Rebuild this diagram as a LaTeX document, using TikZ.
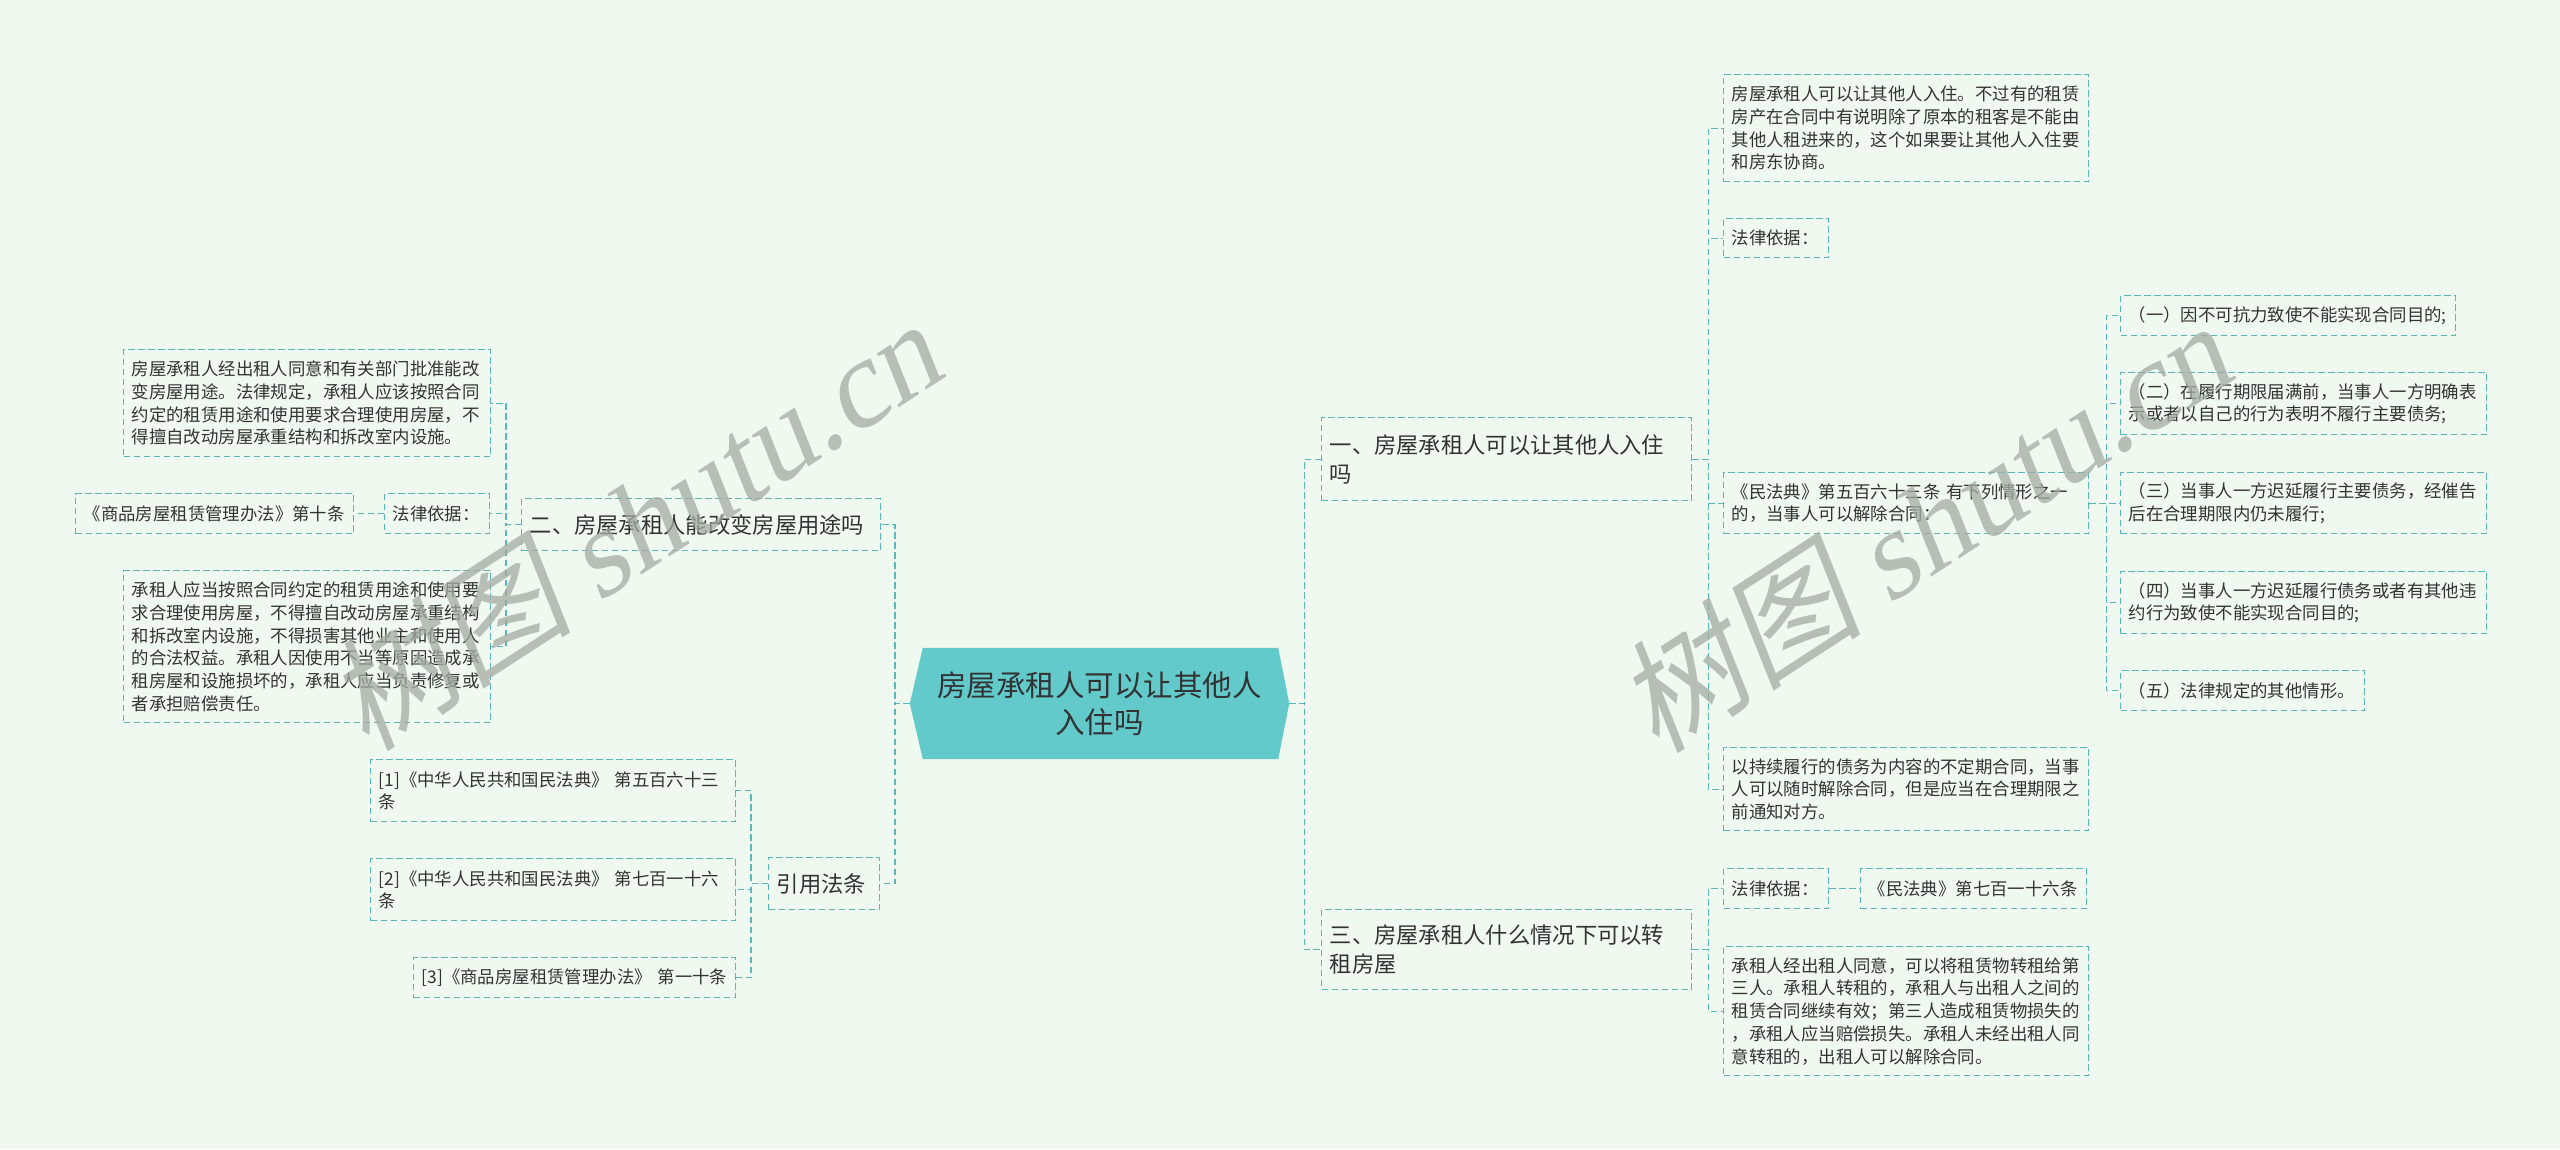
\documentclass[tikz,border=0pt]{standalone}
\usepackage{fontspec}
\setmainfont{Noto Sans CJK SC}
\newfontfamily\wmserif{Liberation Serif}
\usetikzlibrary{backgrounds}
\definecolor{bgc}{HTML}{F0F9EF}
\definecolor{lnc}{HTML}{5AB6B8}
\definecolor{cfill}{HTML}{63CACB}
\definecolor{txc}{HTML}{333333}
\definecolor{wmc}{HTML}{A3ABA3}
\tikzset{
 boxbase/.style={draw=lnc, line width=1.4pt, dash pattern=on 6.5pt off 3.5pt, inner xsep=8pt, inner ysep=0pt, align=left, text=txc},
 leaf/.style={boxbase, font=\fontsize{17.4}{22.7}\selectfont},
 mid/.style={boxbase, font=\fontsize{22.3}{28.7}\selectfont},
 conn/.style={draw=lnc, line width=1.4pt, dash pattern=on 6.5pt off 3.5pt},
 central/.style={inner sep=0pt, align=center, text=txc, font=\fontsize{29.5}{37}\selectfont, minimum width=379pt, minimum height=111pt, text width=359pt},
 wm/.style={text=wmc, text opacity=0.75, font=\fontsize{124}{124}\selectfont, inner sep=0pt}
}
\newcommand{\mnode}[7]{%
 \pgfmathsetmacro{\mnw}{#4-#2}%
 \pgfmathsetmacro{\mnh}{#5-#3}%
 \pgfmathsetmacro{\mnt}{#4-#2-16}%
 \node[#6, anchor=north west, minimum width=\mnw pt, minimum height=\mnh pt, text width=\mnt pt] (#1) at (#2,#3) {#7};}
\begin{document}
\begin{tikzpicture}[x=1pt,y=-1pt]
\useasboundingbox (0,0) rectangle (2560,1149);
% central
\node[central] (c) at (1099.5,703.5) {房屋承租人可以让其他人\\入住吗};
\begin{pgfonlayer}{background}
\fill[bgc] (0,0) rectangle (2560,1149);
\fill[cfill] (c.west) -- ([xshift=13pt]c.north west) -- ([xshift=-11pt]c.north east) -- (c.east) -- ([xshift=-11pt]c.south east) -- ([xshift=13pt]c.south west) -- cycle;
\end{pgfonlayer}
% left branch 二
\mnode{n2}{521}{498}{880}{550}{mid}{二、房屋承租人能改变房屋用途吗}
\mnode{nA}{123}{349}{490}{456}{leaf}{房屋承租人经出租人同意和有关部门批准能改\\变房屋用途。法律规定，承租人应该按照合同\\约定的租赁用途和使用要求合理使用房屋，不\\得擅自改动房屋承重结构和拆改室内设施。}
\mnode{nL1}{384}{493}{489}{533}{leaf}{法律依据：}
\mnode{nB}{75}{493}{353}{533}{leaf}{《商品房屋租赁管理办法》第十条}
\mnode{nC}{123}{570}{490}{722}{leaf}{承租人应当按照合同约定的租赁用途和使用要\\求合理使用房屋，不得擅自改动房屋承重结构\\和拆改室内设施，不得损害其他业主和使用人\\的合法权益。承租人因使用不当等原因造成承\\租房屋和设施损坏的，承租人应当负责修复或\\者承担赔偿责任。}
% 引用法条
\mnode{nR}{768}{857}{879}{909}{mid}{引用法条}
\mnode{r1}{370}{759}{735}{821}{leaf}{[1]《中华人民共和国民法典》 第五百六十三\\条}
\mnode{r2}{370}{858}{735}{920}{leaf}{[2]《中华人民共和国民法典》 第七百一十六\\条}
\mnode{r3}{413}{957}{735}{997}{leaf}{[3]《商品房屋租赁管理办法》 第一十条}
% right branch 一
\mnode{n1}{1321}{417}{1691}{500}{mid}{一、房屋承租人可以让其他人入住\\吗}
\mnode{a1}{1723}{74}{2088}{181}{leaf}{房屋承租人可以让其他人入住。不过有的租赁\\房产在合同中有说明除了原本的租客是不能由\\其他人租进来的，这个如果要让其他人入住要\\和房东协商。}
\mnode{a2}{1723}{218}{1828}{257}{leaf}{法律依据：}
\mnode{a3}{1723}{472}{2088}{533}{leaf}{《民法典》第五百六十三条 有下列情形之一\\的，当事人可以解除合同：}
\mnode{a4}{1723}{747}{2088}{830}{leaf}{以持续履行的债务为内容的不定期合同，当事\\人可以随时解除合同，但是应当在合理期限之\\前通知对方。}
\mnode{b1}{2120}{295}{2455}{335}{leaf}{（一）因不可抗力致使不能实现合同目的;}
\mnode{b2}{2120}{372}{2486}{434}{leaf}{（二）在履行期限届满前，当事人一方明确表\\示或者以自己的行为表明不履行主要债务;}
\mnode{b3}{2120}{472}{2486}{533}{leaf}{（三）当事人一方迟延履行主要债务，经催告\\后在合理期限内仍未履行;}
\mnode{b4}{2120}{571}{2486}{633}{leaf}{（四）当事人一方迟延履行债务或者有其他违\\约行为致使不能实现合同目的;}
\mnode{b5}{2120}{670}{2364}{710}{leaf}{（五）法律规定的其他情形。}
% right branch 三
\mnode{n3}{1321}{909}{1691}{989}{mid}{三、房屋承租人什么情况下可以转\\租房屋}
\mnode{d1}{1723}{868}{1828}{908}{leaf}{法律依据：}
\mnode{d2}{1860}{868}{2086}{908}{leaf}{《民法典》第七百一十六条}
\mnode{d3}{1723}{946}{2088}{1075}{leaf}{承租人经出租人同意，可以将租赁物转租给第\\三人。承租人转租的，承租人与出租人之间的\\租赁合同继续有效；第三人造成租赁物损失的\\，承租人应当赔偿损失。承租人未经出租人同\\意转租的，出租人可以解除合同。}
% connectors
\draw[conn] (c.west) -- ++(-15,0) |- (n2.east);
\draw[conn] (c.west) -- ++(-15,0) |- (nR.east);
\draw[conn] (c.east) -- ++(15,0) |- (n1.west);
\draw[conn] (c.east) -- ++(15,0) |- (n3.west);
\draw[conn] (n2.west) -- ++(-15,0) |- (nA.east);
\draw[conn] (n2.west) -- ++(-15,0) |- (nL1.east);
\draw[conn] (n2.west) -- ++(-15,0) |- (nC.east);
\draw[conn] (nL1.west) -- (nB.east);
\draw[conn] (nR.west) -- ++(-17,0) |- (r1.east);
\draw[conn] (nR.west) -- ++(-17,0) |- (r2.east);
\draw[conn] (nR.west) -- ++(-17,0) |- (r3.east);
\draw[conn] (n1.east) -- ++(16,0) |- (a1.west);
\draw[conn] (n1.east) -- ++(16,0) |- (a2.west);
\draw[conn] (n1.east) -- ++(16,0) |- (a3.west);
\draw[conn] (n1.east) -- ++(16,0) |- (a4.west);
\draw[conn] (a3.east) -- ++(17,0) |- (b1.west);
\draw[conn] (a3.east) -- ++(17,0) |- (b2.west);
\draw[conn] (a3.east) -- ++(17,0) |- (b3.west);
\draw[conn] (a3.east) -- ++(17,0) |- (b4.west);
\draw[conn] (a3.east) -- ++(17,0) |- (b5.west);
\draw[conn] (n3.east) -- ++(16,0) |- (d1.west);
\draw[conn] (n3.east) -- ++(16,0) |- (d3.west);
\draw[conn] (d1.east) -- (d2.west);
% watermarks
\node[wm, rotate=33, xslant=0.2] (wm1) at (640,520) {树图 {\wmserif shutu.cn}};
\node[wm, rotate=33, xslant=0.2] (wm2) at (1930,522) {树图 {\wmserif shutu.cn}};
\end{tikzpicture}
\end{document}
